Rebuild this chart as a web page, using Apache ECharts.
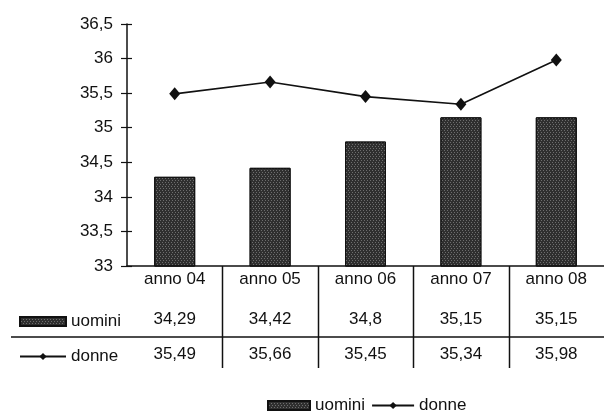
<!DOCTYPE html>
<html>
<head>
<meta charset="utf-8">
<script src="https://cdn.jsdelivr.net/npm/echarts@6/dist/echarts.min.js"></script>
<style>html,body{margin:0;padding:0;background:#fff}#c{width:604px;height:412px}</style>
</head>
<body>
<div id="c"></div>
<script>
var categories = ['anno 04', 'anno 05', 'anno 06', 'anno 07', 'anno 08'];
var uomini = [34.29, 34.42, 34.8, 35.15, 35.15];
var donne = [35.49, 35.66, 35.45, 35.34, 35.98];
var yMin = 33, yMax = 36.5, yStep = 0.5;

function comma(v) { return String(v).replace('.', ','); }
var FONT = 'Liberation Sans, Arial, sans-serif';
var TXT = { color: '#111', fontFamily: FONT, fontSize: 17 };

var chart = echarts.init(document.getElementById('c'), null, { renderer: 'canvas' });
var barDecal = {
  symbol: 'rect', symbolSize: 1,
  dashArrayX: [[1, 2], [0, 1, 1, 1]], dashArrayY: [1, 1],
  color: 'rgba(255,255,255,0.3)'
};
var legendData = [{ name: 'uomini', icon: 'rect' }, { name: 'donne' }];
var option = {
  animation: false,
  backgroundColor: '#fff',
  grid: { left: 127, right: 0, top: 24, bottom: 146, containLabel: false },
  legend: [{
    left: 262, top: 392, orient: 'horizontal', itemWidth: 42, itemHeight: 9, itemGap: 6,
    textStyle: TXT, data: legendData, selectedMode: false
  }, {
    left: 14, top: 307, orient: 'vertical', itemWidth: 46, itemHeight: 9, itemGap: 16,
    textStyle: Object.assign({ lineHeight: 19 }, TXT), data: legendData, selectedMode: false
  }],
  xAxis: [{
    type: 'category', data: categories, position: 'bottom',
    axisLine: { lineStyle: { color: '#111', width: 1.5 } },
    axisTick: { show: false },
    axisLabel: Object.assign({ margin: 5 }, TXT)
  }, {
    type: 'category', data: uomini.map(comma), position: 'bottom', offset: 40,
    axisLine: { show: false }, axisTick: { show: false },
    axisLabel: Object.assign({ margin: 5 }, TXT)
  }, {
    type: 'category', data: donne.map(comma), position: 'bottom', offset: 75,
    axisLine: { show: false }, axisTick: { show: false },
    axisLabel: Object.assign({ margin: 5 }, TXT)
  }],
  yAxis: [{
    type: 'value', min: yMin, max: yMax, interval: yStep,
    axisLine: { show: true, lineStyle: { color: '#111', width: 1.5 } },
    axisTick: { show: true, length: 6, lineStyle: { color: '#111', width: 1.2 } },
    splitLine: { show: false },
    axisLabel: Object.assign({ margin: 14, formatter: comma }, TXT)
  }, {
    type: 'value', min: yMin, max: yMax, interval: yStep, position: 'left',
    axisLine: { show: false },
    axisTick: { show: true, inside: true, length: 5, lineStyle: { color: '#111', width: 1.2 } },
    splitLine: { show: false }, axisLabel: { show: false }
  }],
  series: [{
    name: 'uomini', type: 'bar', data: uomini, barWidth: 41, xAxisIndex: 0, yAxisIndex: 0,
    itemStyle: { color: '#2f2f2f', borderColor: '#111', borderWidth: 1, decal: barDecal }
  }, {
    name: 'donne', type: 'line', data: donne, xAxisIndex: 0, yAxisIndex: 0,
    symbol: 'diamond', symbolSize: [11, 13],
    lineStyle: { color: '#111', width: 1.6 },
    itemStyle: { color: '#111' }
  }]
};
chart.setOption(option);

// table grid lines derived from the category axis and the value axis
var centers = categories.map(function (c, i) { return chart.convertToPixel({ xAxisIndex: 0 }, i); });
var baseY = chart.convertToPixel({ yAxisIndex: 0 }, yMin);
var gridRight = 604;
var lines = [];
for (var i = 1; i < centers.length; i++) {
  var bx = Math.round((centers[i - 1] + centers[i]) / 2) + 0.5;
  lines.push({ type: 'line', shape: { x1: bx, y1: baseY, x2: bx, y2: baseY + 102 },
    style: { stroke: '#111', lineWidth: 1.5 }, silent: true });
}
lines.push({ type: 'line', shape: { x1: 11, y1: baseY + 71, x2: gridRight, y2: baseY + 71 },
  style: { stroke: '#111', lineWidth: 1.5 }, silent: true });
chart.setOption({ graphic: lines });
</script>
</body>
</html>
